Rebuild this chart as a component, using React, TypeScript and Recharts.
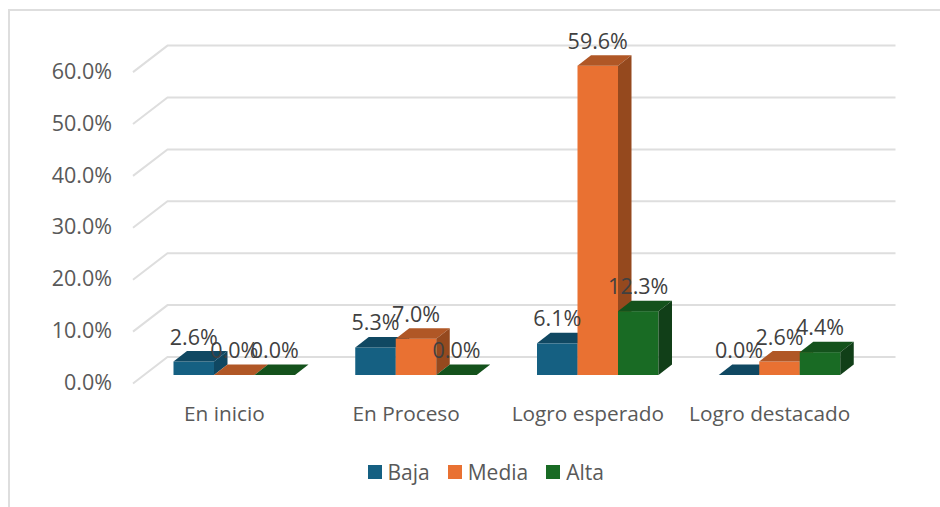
import { Bar, BarChart, CartesianGrid, LabelList, Legend, XAxis, YAxis } from "recharts";

const categories = ["En inicio", "En Proceso", "Logro esperado", "Logro destacado"];
const baja = [2.6, 5.3, 6.1, 0];
const media = [0, 7.0, 59.6, 2.6];
const alta = [0, 0, 12.3, 4.4];
const yTicks = [0, 10, 20, 30, 40, 50, 60];

const FONT = "'Open Sans', sans-serif";
const DEPTH_X = 13.5;
const DEPTH_Y = 10.5;

const data = categories.map((name, i) => ({ name, baja: baja[i], media: media[i], alta: alta[i] }));

function makeBox(front: string, top: string, side: string) {
  return function Box({ x, y, width, height }: any) {
    const r = x + width;
    const b = y + height;
    return (
      <g>
        {height > 0 && <rect x={x} y={y} width={width} height={height} fill={front} />}
        <polygon points={`${x},${y} ${r},${y} ${r + DEPTH_X},${y - DEPTH_Y} ${x + DEPTH_X},${y - DEPTH_Y}`} fill={top} />
        {height > 0 && <polygon points={`${r},${y} ${r + DEPTH_X},${y - DEPTH_Y} ${r + DEPTH_X},${b - DEPTH_Y} ${r},${b}`} fill={side} />}
      </g>
    );
  };
}

// back wall line plus the slanted bit running to the front of the floor
function WallLine({ x1, y1, x2 }: any) {
  const back = y1 - 18;
  return (
    <polyline
      points={`${x1 - 10.5},${back + 26.5} ${x1 + 24},${back} ${x2 + 25},${back}`}
      fill="none"
      stroke="#DEDEDE"
      strokeWidth={2}
    />
  );
}

function LegendRow({ payload }: any) {
  return (
    <div style={{ display: "flex", justifyContent: "center", gap: 18, height: 30, alignItems: "center", paddingLeft: 48 }}>
      {(payload || []).map((p: any) => (
        <div key={p.value} style={{ display: "flex", alignItems: "center", gap: 6, fontFamily: FONT, fontSize: 21, color: "#595959" }}>
          <span style={{ width: 14, height: 14, background: p.color, display: "inline-block" }} />
          {p.value}
        </div>
      ))}
    </div>
  );
}

const fmt = (v: any) => `${Number(v).toFixed(1)}%`;
const labelStyle = { fontFamily: FONT, fontSize: 21.5, fill: "#404040" };

export default function App() {
  return (
    <div style={{ position: "absolute", left: 0, top: 0, width: 940, height: 507, background: "#fff", overflow: "hidden" }}>
      <div style={{ position: "absolute", left: 8, top: 9, width: 940, height: 520, borderLeft: "2px solid #DEDEDE", borderTop: "2px solid #DEDEDE" }} />
      <BarChart
        width={940}
        height={507}
        data={data}
        margin={{ top: 63.6, right: 69.5, bottom: 20, left: 53 }}
        barSize={40.5}
        barGap={0}
        style={{ position: "absolute", left: 0, top: 0 }}
      >
        <CartesianGrid vertical={false} horizontal={(p: any) => <WallLine key={p.key ?? p.index} {...p} />} />
        <XAxis
          dataKey="name"
          axisLine={false}
          tickLine={false}
          tickSize={0}
          tickMargin={31}
          height={82}
          interval={0}
          tick={{ fontFamily: FONT, fontSize: 20.8, fill: "#595959", dx: -10 }}
        />
        <YAxis
          width={90.5}
          domain={[0, 60]}
          ticks={yTicks}
          axisLine={false}
          tickLine={false}
          tickSize={0}
          tickMargin={31.5}
          tickFormatter={fmt}
          tick={{ fontFamily: FONT, fontSize: 21.5, fill: "#595959", dy: 7.5 }}
        />
        <Legend verticalAlign="bottom" height={30} itemSorter={null} content={<LegendRow />} />
        <Bar dataKey="baja" name="Baja" fill="#156082" isAnimationActive={false} shape={makeBox("#156082", "#104862", "#0F4761")}>
          <LabelList dataKey="baja" position="top" offset={17} formatter={fmt} style={labelStyle} />
        </Bar>
        <Bar dataKey="media" name="Media" fill="#E97132" isAnimationActive={false} shape={makeBox("#E97132", "#B05726", "#95491E")}>
          <LabelList dataKey="media" position="top" offset={17} formatter={fmt} style={labelStyle} />
        </Bar>
        <Bar dataKey="alta" name="Alta" fill="#196B24" isAnimationActive={false} shape={makeBox("#196B24", "#14521C", "#113F18")}>
          <LabelList dataKey="alta" position="top" offset={17} formatter={fmt} style={labelStyle} />
        </Bar>
      </BarChart>
    </div>
  );
}
